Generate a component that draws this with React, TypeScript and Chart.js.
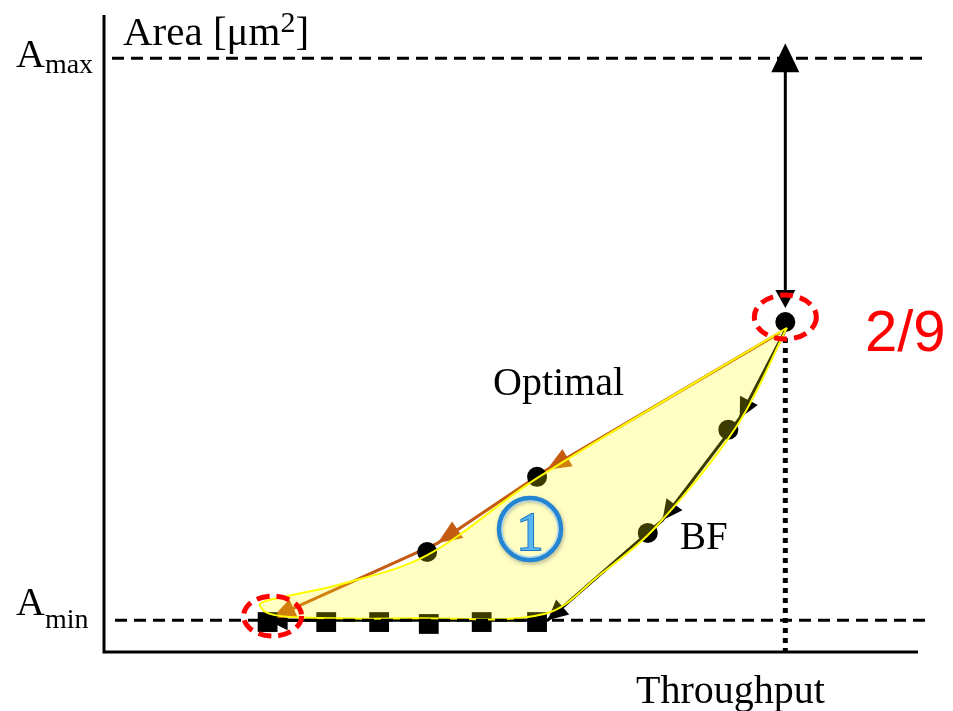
import { useEffect, useRef } from "react";
import { Chart, registerables } from "chart.js";

Chart.register(...registerables);

// Throughput (x) and area (y) in relative units, 0–100 over the plotted span.
const A_MAX = 93.2;
const A_MIN = 5.0;
const PEAK_THROUGHPUT = 83.7;
const PEAK_AREA = 51.8;

// BF: flat steps at minimum area
const bfStepThroughput = [20.1, 27.3, 33.8, 39.9, 46.4, 53.2];
const bfStepArea = [4.7, 4.7, 4.7, 4.4, 4.7, 4.7];

// BF: design points on the rising branch (last one is the peak)
const bfPointThroughput = [66.8, 76.7, PEAK_THROUGHPUT];
const bfPointArea = [18.7, 34.9, PEAK_AREA];

// Optimal: design points
const optimalPointThroughput = [39.7, 53.2];
const optimalPointArea = [15.7, 27.5];

// Exploration paths (peak -> minimum)
const bfPathThroughput = [83.7, 78.1, 68.6, 54.5, 20.1];
const bfPathArea = [50.5, 36.7, 20.7, 5.0, 5.0];

const optimalPathThroughput = [83.0, 54.4, 41.0, 20.6];
const optimalPathArea = [50.1, 28.6, 17.1, 5.3];

// Region enclosed between the two paths
const regionThroughput = [83.9, 53.2, 39.7, 29.0, 22.6, 19.2, 20.1, 24.1, 38.8, 54.2, 60.9, 67.7, 77.8, 83.9];
const regionArea = [50.9, 27.3, 15.2, 10.6, 8.8, 7.6, 6.1, 5.4, 5.3, 6.0, 12.1, 19.5, 35.6, 50.9];

const toPoints = (xs: number[], ys: number[]) => xs.map((x, i) => ({ x, y: ys[i] }));

const SERIF = '"Liberation Serif", "Times New Roman", serif';
const SANS = '"Liberation Sans", Arial, sans-serif';

function arrowHead(ctx: CanvasRenderingContext2D, x: number, y: number, angle: number, len: number, half: number, color: string) {
  ctx.save();
  ctx.translate(x, y);
  ctx.rotate(angle);
  ctx.beginPath();
  ctx.moveTo(0, 0);
  ctx.lineTo(-len, -half);
  ctx.lineTo(-len, half);
  ctx.closePath();
  ctx.fillStyle = color;
  ctx.fill();
  ctx.restore();
}

const pathArrows = {
  id: "pathArrows",
  afterDatasetDraw(chart: any, args: any) {
    const ds = chart.data.datasets[args.index];
    if (!ds.arrowColor) return;
    const pts = args.meta.data;
    const ctx = chart.ctx as CanvasRenderingContext2D;
    for (let j = 1; j < pts.length; j++) {
      const a = Math.atan2(pts[j].y - pts[j - 1].y, pts[j].x - pts[j - 1].x);
      arrowHead(ctx, pts[j].x, pts[j].y, a, ds.arrowLength, ds.arrowHalf, ds.arrowColor);
    }
  },
};

const axesPlugin = {
  id: "axesLines",
  beforeDatasetsDraw(chart: any) {
    const ctx = chart.ctx as CanvasRenderingContext2D;
    const { left, right, top, bottom } = chart.chartArea;
    ctx.save();
    ctx.strokeStyle = "#000";
    ctx.lineWidth = 3;
    ctx.beginPath();
    ctx.moveTo(left, top);
    ctx.lineTo(left, bottom);
    ctx.lineTo(right, bottom);
    ctx.stroke();
    ctx.restore();
  },
};

const annotations = {
  id: "annotations",
  afterDraw(chart: any) {
    const ctx = chart.ctx as CanvasRenderingContext2D;
    const xs = chart.scales.x;
    const ys = chart.scales.y;
    const { left, bottom } = chart.chartArea;
    const yMax = ys.getPixelForValue(A_MAX);
    const yMin = ys.getPixelForValue(A_MIN);
    const px = xs.getPixelForValue(PEAK_THROUGHPUT);
    const py = ys.getPixelForValue(PEAK_AREA);

    ctx.save();
    // bound lines
    ctx.strokeStyle = "#000";
    ctx.lineWidth = 3;
    ctx.setLineDash([12, 7]);
    ctx.beginPath();
    ctx.moveTo(left + 8, yMax);
    ctx.lineTo(925, yMax);
    ctx.moveTo(left + 11, yMin);
    ctx.lineTo(930, yMin);
    ctx.stroke();

    // dotted drop line from the peak to the throughput axis
    ctx.setLineDash([5, 5]);
    ctx.lineWidth = 5;
    ctx.beginPath();
    ctx.moveTo(px, py + 16);
    ctx.lineTo(px, bottom);
    ctx.stroke();
    ctx.setLineDash([]);

    // double arrow between peak and A_max
    ctx.lineWidth = 3;
    ctx.beginPath();
    ctx.moveTo(px, yMax + 12);
    ctx.lineTo(px, py - 28);
    ctx.stroke();
    arrowHead(ctx, px, yMax - 15, -Math.PI / 2, 29, 14, "#000");
    arrowHead(ctx, px, py - 14, Math.PI / 2, 18, 10, "#000");

    // red dashed ellipses
    ctx.strokeStyle = "#FF0000";
    ctx.lineWidth = 5;
    ctx.setLineDash([13, 7]);
    ctx.beginPath();
    ctx.ellipse(px, py - 5, 31, 22, 0, 0, Math.PI * 2);
    ctx.stroke();
    const bx = xs.getPixelForValue(bfStepThroughput[0]);
    const by = ys.getPixelForValue(bfStepArea[0]);
    ctx.beginPath();
    ctx.ellipse(bx + 5, by - 6, 29, 20, 0, 0, Math.PI * 2);
    ctx.stroke();
    ctx.setLineDash([]);

    // text
    ctx.fillStyle = "#000";
    ctx.textBaseline = "alphabetic";
    ctx.textAlign = "left";
    ctx.font = `41px ${SERIF}`;
    ctx.fillText("Area [μm", 123, 45);
    let w = ctx.measureText("Area [μm").width;
    ctx.font = `30px ${SERIF}`;
    ctx.fillText("2", 123 + w, 32);
    const w2 = ctx.measureText("2").width;
    ctx.font = `41px ${SERIF}`;
    ctx.fillText("]", 123 + w + w2, 45);

    ctx.font = `40px ${SERIF}`;
    ctx.fillText("A", 16, 67);
    ctx.fillText("A", 16, 615);
    w = ctx.measureText("A").width;
    ctx.font = `28px ${SERIF}`;
    ctx.fillText("max", 16 + w, 73);
    ctx.fillText("min", 16 + w, 628);

    ctx.font = `40px ${SERIF}`;
    ctx.fillText("Optimal", 493, 395);
    ctx.font = `39px ${SERIF}`;
    ctx.fillText("BF", 680, 549);
    ctx.font = `40px ${SERIF}`;
    ctx.fillText("Throughput", 636, 703);

    ctx.fillStyle = "#FF0000";
    ctx.font = `58px ${SANS}`;
    ctx.fillText("2/9", 865, 351);

    // circled marker for region 1
    const cx = 530;
    const cy = 529;
    ctx.shadowColor = "rgba(0,0,0,0.3)";
    ctx.shadowBlur = 4;
    ctx.shadowOffsetX = 1;
    ctx.shadowOffsetY = 2;
    ctx.strokeStyle = "#2485D3";
    ctx.lineWidth = 4.5;
    ctx.beginPath();
    ctx.arc(cx, cy, 31, 0, Math.PI * 2);
    ctx.stroke();
    ctx.shadowColor = "transparent";
    ctx.strokeStyle = "#A8D8F6";
    ctx.lineWidth = 1.2;
    ctx.beginPath();
    ctx.arc(cx, cy, 28, 0, Math.PI * 2);
    ctx.stroke();
    ctx.textAlign = "center";
    ctx.font = `54px ${SERIF}`;
    ctx.fillStyle = "#5BB5EE";
    ctx.strokeStyle = "#1F78C4";
    ctx.lineWidth = 2;
    ctx.strokeText("1", cx, 550);
    ctx.fillText("1", cx, 550);
    ctx.restore();
  },
};

export default function App() {
  const ref = useRef<HTMLCanvasElement | null>(null);

  useEffect(() => {
    if (!ref.current) return;
    const chart = new Chart(ref.current, {
      type: "line",
      data: {
        datasets: [
          {
            label: "region",
            data: toPoints(regionThroughput, regionArea),
            order: 0,
            fill: "shape",
            backgroundColor: "rgba(255,255,0,0.23)",
            borderColor: "#FFFF00",
            borderWidth: 2,
            pointRadius: 0,
            tension: 0.35,
          },
          {
            label: "BF steps",
            data: toPoints(bfStepThroughput, bfStepArea),
            order: 1,
            showLine: false,
            pointStyle: "rect",
            pointRadius: 14,
            pointBackgroundColor: "#000",
            pointBorderWidth: 0,
          },
          {
            label: "BF",
            data: toPoints(bfPointThroughput, bfPointArea),
            order: 1,
            showLine: false,
            pointStyle: "circle",
            pointRadius: 10,
            pointBackgroundColor: "#000",
            pointBorderWidth: 0,
          },
          {
            label: "Optimal",
            data: toPoints(optimalPointThroughput, optimalPointArea),
            order: 1,
            showLine: false,
            pointStyle: "circle",
            pointRadius: 10,
            pointBackgroundColor: "#000",
            pointBorderWidth: 0,
          },
          {
            label: "Optimal path",
            data: toPoints(optimalPathThroughput, optimalPathArea),
            order: 2,
            borderColor: "#C55A11",
            borderWidth: 3,
            pointRadius: 0,
            tension: 0,
            fill: false,
            arrowColor: "#C55A11",
            arrowLength: 24,
            arrowHalf: 10,
          } as any,
          {
            label: "BF path",
            data: toPoints(bfPathThroughput, bfPathArea),
            order: 2,
            borderColor: "#000",
            borderWidth: 3,
            pointRadius: 0,
            tension: 0,
            fill: false,
            arrowColor: "#000",
            arrowLength: 20,
            arrowHalf: 10,
          } as any,
        ],
      },
      options: {
        responsive: false,
        maintainAspectRatio: false,
        animation: false,
        events: [],
        layout: { padding: { left: 104, right: 35, top: 15, bottom: 59 } },
        scales: {
          x: { type: "linear", min: 0, max: 100, display: false },
          y: { type: "linear", min: 0, max: 100, display: false },
        },
        plugins: {
          legend: { display: false },
          tooltip: { enabled: false },
        },
      },
      plugins: [axesPlugin, pathArrows, annotations],
    });
    return () => chart.destroy();
  }, []);

  return (
    <div style={{ position: "fixed", left: 0, top: 0, width: 953, height: 711, background: "#fff" }}>
      <canvas ref={ref} width={953} height={711} style={{ display: "block" }} />
    </div>
  );
}
